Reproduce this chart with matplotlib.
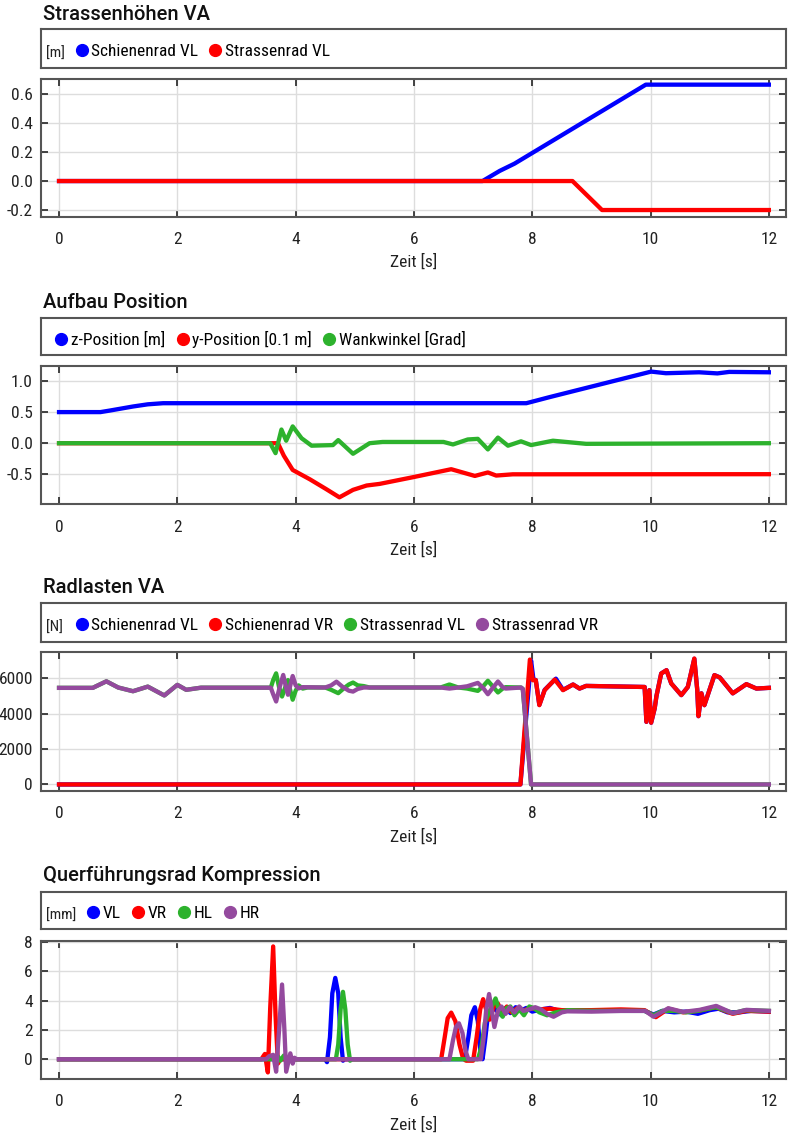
import numpy as np
import matplotlib
matplotlib.use("Agg")
import matplotlib.pyplot as plt
from matplotlib.lines import Line2D

plt.rcParams['font.family'] = ['Liberation Sans Narrow', 'Roboto Condensed', 'Roboto', 'DejaVu Sans']

BLUE = '#0000ff'
RED = '#ff0000'
GREEN = '#2db22d'
PURPLE = '#944a9e'

# --- Strassenhoehen VA ---
p1_t_schiene = [0, 7.16, 7.45, 7.7, 9.92, 12]
p1_v_schiene = [0, 0, 0.07, 0.12, 0.665, 0.665]
p1_t_strasse = [0, 8.68, 9.18, 12]
p1_v_strasse = [0, 0, -0.2, -0.2]

# --- Aufbau Position ---
p2_t_z = [0, 0.7, 0.86, 1.25, 1.5, 1.76, 7.9, 8.07, 8.29, 10.01, 10.26, 10.82, 11.13, 11.33, 12]
p2_v_z = [0.5, 0.5, 0.525, 0.59, 0.625, 0.643, 0.643, 0.685, 0.74, 1.151, 1.125, 1.14, 1.122, 1.146, 1.14]
p2_t_y = [0, 3.7, 3.8, 3.95, 4.24, 4.52, 4.74, 4.97, 5.2, 5.42, 5.98, 6.63, 7.03, 7.25, 7.39, 7.67, 12]
p2_v_y = [0, 0, -0.2, -0.43, -0.58, -0.74, -0.87, -0.75, -0.68, -0.654, -0.547, -0.418, -0.526, -0.47, -0.52, -0.5, -0.498]
p2_t_w = [0, 3.57, 3.66, 3.76, 3.84, 3.95, 4.1, 4.27, 4.63, 4.72, 4.97, 5.25, 5.47, 6.5, 6.66, 6.91,
          7.08, 7.25, 7.42, 7.59, 7.81, 7.98, 8.35, 8.91, 12]
p2_v_w = [0, 0, -0.16, 0.22, 0.04, 0.27, 0.08, -0.04, -0.03, 0.05, -0.17, 0.0, 0.02, 0.02, -0.02, 0.06,
          0.07, -0.1, 0.09, -0.04, 0.03, -0.03, 0.04, -0.01, 0]

# --- Radlasten VA ---
p3_t_svr = [0, 7.8, 7.96, 8.01, 8.06, 8.12, 8.21, 8.38, 8.52, 8.69, 8.8, 8.91, 9.9, 9.93, 9.98, 10.01,
            10.07, 10.1, 10.18, 10.27, 10.35, 10.52, 10.63, 10.74, 10.79, 10.81, 10.86, 10.91, 11.08,
            11.17, 11.39, 11.62, 11.79, 12]
p3_v_svr = [0, 0, 7060, 5890, 5900, 4480, 5330, 5930, 5330, 5650, 5420, 5570, 5510, 3540, 5330, 3490,
            4300, 5000, 6270, 6460, 5710, 5050, 5510, 7120, 5330, 3860, 5150, 4480, 6180,
            6050, 5150, 5670, 5420, 5460]
p3_t_svl = [0, 7.8, 7.98, 8.02, 8.06, 8.12, 8.21, 8.4, 8.52, 8.69, 8.8, 8.91, 9.9, 9.93, 9.98, 10.01,
            10.07, 10.1, 10.18, 10.27, 10.35, 10.52, 10.63, 10.74, 10.79, 10.81, 10.86, 10.91, 11.08,
            11.17, 11.39, 11.62, 11.79, 12]
p3_v_svl = [0, 0, 7000, 5950, 5900, 4500, 5350, 5980, 5350, 5650, 5420, 5570, 5510, 3540, 5330, 3490,
            4300, 5000, 6270, 6460, 5710, 5050, 5510, 7100, 5330, 3860, 5150, 4480, 6180,
            6050, 5150, 5670, 5420, 5460]
p3_t_stvl = [0, 0.57, 0.8, 1.0, 1.25, 1.5, 1.78, 2.0, 2.15, 2.4, 3.58, 3.62, 3.67, 3.72, 3.77, 3.82,
             3.87, 3.91, 3.95, 4.0, 4.05, 4.12, 4.2, 4.5, 4.6, 4.72, 4.82, 4.9, 4.97, 5.05, 5.15, 5.25,
             6.45, 6.6, 6.75, 6.9, 7.08, 7.17, 7.25, 7.33, 7.42, 7.5, 7.55, 7.81, 7.84, 7.98, 12]
p3_v_stvl = [5460, 5460, 5830, 5480, 5270, 5530, 5030, 5630, 5350, 5470, 5470, 5900, 6280, 5500, 4970, 5450,
             5900, 5300, 4790, 5300, 5600, 5420, 5480, 5480, 5350, 5160, 5450, 5650, 5760, 5600, 5560, 5480,
             5480, 5650, 5480, 5420, 5290, 5550, 5860, 5550, 5200, 5420, 5500, 5480, 5400, 0, 0]
p3_t_stvr = [0, 0.57, 0.8, 1.0, 1.25, 1.5, 1.78, 2.0, 2.15, 2.4, 3.58, 3.62, 3.67, 3.73, 3.79, 3.83,
             3.87, 3.91, 3.95, 4.0, 4.05, 4.12, 4.5, 4.6, 4.69, 4.8, 4.9, 4.97, 5.05, 5.15,
             6.45, 6.6, 6.75, 6.9, 7.08, 7.17, 7.25, 7.33, 7.42, 7.5, 7.55, 7.81, 7.84, 7.98, 12]
p3_v_stvr = [5460, 5460, 5830, 5480, 5270, 5530, 5030, 5630, 5350, 5470, 5470, 5100, 4690, 5500, 6190, 5600,
             5070, 5600, 6130, 5600, 5430, 5500, 5480, 5600, 5810, 5500, 5300, 5250, 5400, 5480,
             5480, 5420, 5480, 5550, 5740, 5450, 5100, 5450, 5820, 5500, 5420, 5480, 5400, 0, 0]

# --- Querfuehrungsrad Kompression ---
p4_t_vl = [0, 4.5, 4.53, 4.58, 4.62, 4.67, 4.72, 4.76, 4.8, 4.83, 6.86, 6.92, 6.97, 7.03, 7.08, 7.13,
           7.16, 7.2, 7.25, 7.32, 7.4, 7.48, 7.55, 7.63, 7.72, 7.8, 7.9, 8.0, 8.15, 8.3, 8.45, 8.6, 9.0,
           9.5, 9.9, 10.05, 10.2, 10.4, 10.6, 10.8, 11.0, 11.15, 11.3, 11.5, 11.7, 12]
p4_v_vl = [0, 0, -0.2, 1.5, 4.5, 5.55, 4.5, 1.5, -0.1, 0, 0, 1.5, 3.0, 3.55, 2.6, 0.3,
           0, 1.2, 3.0, 3.6, 3.3, 3.0, 3.5, 3.15, 3.55, 3.3, 3.5, 3.25, 3.4, 3.5, 3.3, 3.3, 3.3,
           3.3, 3.3, 3.05, 3.3, 3.2, 3.25, 3.1, 3.35, 3.45, 3.2, 3.2, 3.3, 3.25]
p4_t_vr = [0, 3.42, 3.48, 3.53, 3.57, 3.62, 3.66, 3.7, 3.74, 6.46, 6.52, 6.57, 6.63, 6.7, 6.77, 6.83,
           6.88, 7.0, 7.06, 7.12, 7.17, 7.22, 7.28, 7.35, 7.42, 7.5, 7.57, 7.65, 7.75, 7.85, 7.95, 8.1,
           8.3, 8.5, 9.0, 9.5, 9.9, 10.09, 10.3, 10.55, 10.8, 11.1, 11.39, 11.62, 12]
p4_v_vr = [0, 0, 0.36, -0.9, 3.5, 7.7, 3.0, -0.3, 0, 0, 1.5, 2.8, 3.18, 2.6, 1.0, 0.05,
           -0.1, -0.1, 1.5, 3.4, 4.1, 3.4, 2.7, 3.6, 3.8, 3.1, 3.6, 3.2, 3.5, 3.3, 3.5, 3.4,
           3.45, 3.35, 3.35, 3.4, 3.35, 2.87, 3.45, 3.2, 3.3, 3.55, 3.1, 3.3, 3.25]
p4_t_hl = [0, 3.65, 3.7, 3.74, 3.8, 3.85, 3.9, 4.68, 4.72, 4.76, 4.8, 4.84, 4.88, 4.92, 4.95, 7.08, 7.14,
           7.2, 7.28, 7.38, 7.45, 7.5, 7.57, 7.63, 7.7, 7.78, 7.86, 7.95, 8.02, 8.12, 8.25, 8.4, 8.6,
           9.0, 9.5, 9.9, 10.05, 10.2, 10.4, 10.6, 10.8, 11.1, 11.4, 11.6, 12]
p4_v_hl = [0, 0, 0.2, -0.1, 0.25, -0.15, 0, 0, 1.0, 3.4, 4.6, 3.4, 1.0, -0.1, 0, 0, 0.8,
           2.5, 3.3, 4.15, 3.2, 2.9, 3.5, 3.6, 3.0, 3.4, 3.0, 3.6, 3.5, 3.2, 3.0, 3.2, 3.35,
           3.3, 3.3, 3.3, 3.0, 3.3, 3.3, 3.2, 3.3, 3.55, 3.15, 3.35, 3.3]
p4_t_hr = [0, 3.5, 3.55, 3.62, 3.67, 3.72, 3.77, 3.81, 3.84, 3.91, 3.95, 3.98, 4.02, 6.6, 6.66, 6.71,
           6.76, 6.82, 6.87, 6.92, 7.13, 7.18, 7.22, 7.27, 7.31, 7.36, 7.42, 7.48, 7.55, 7.62, 7.7,
           7.78, 7.85, 7.95, 8.05, 8.15, 8.25, 8.36, 8.5, 8.59, 9.0, 9.5, 9.91, 10.05, 10.3, 10.55,
           10.83, 11.11, 11.39, 11.62, 12]
p4_v_hr = [0, 0, 0.2, 0.3, -0.85, 2.0, 5.1, 2.0, -0.85, 0.4, -0.3, 0.1, 0, 0, 1.3, 2.2,
           2.45, 1.8, 0.6, 0, 0, 1.5, 3.3, 4.45, 3.5, 2.2, 3.3, 3.6, 3.1, 3.55, 3.2,
           3.6, 3.3, 3.4, 3.55, 3.4, 3.1, 2.9, 3.2, 3.27, 3.25, 3.3, 3.3, 2.9, 3.48, 3.23,
           3.37, 3.64, 3.14, 3.37, 3.3]

xticks = [0, 2, 4, 6, 8, 10, 12]

W, H = 788, 1135
LEFT, RIGHT = 41.3, 786

panels = [
    dict(title='Strassenhöhen VA', unit='[m]', leg_x=0.047, title_y=20,
         leg=(29.3, 68.3), ax=(79, 216.7), ylim=(-0.246, 0.704),
         yticks=[-0.2, 0.0, 0.2, 0.4, 0.6], fmt='{:.1f}',
         series=[(p1_t_schiene, p1_v_schiene, BLUE, 'Schienenrad VL'),
                 (p1_t_strasse, p1_v_strasse, RED, 'Strassenrad VL')]),
    dict(title='Aufbau Position', unit=None, leg_x=0.02, title_y=308,
         leg=(317.7, 355), ax=(366, 504.3), ylim=(-0.982, 1.241),
         yticks=[-0.5, 0.0, 0.5, 1.0], fmt='{:.1f}',
         series=[(p2_t_z, p2_v_z, BLUE, 'z-Position [m]'),
                 (p2_t_y, p2_v_y, RED, 'y-Position [0.1 m]'),
                 (p2_t_w, p2_v_w, GREEN, 'Wankwinkel [Grad]')]),
    dict(title='Radlasten VA', unit='[N]', leg_x=0.047, title_y=593,
         leg=(603.3, 642.3), ax=(652.3, 791), ylim=(-370, 7470),
         yticks=[0, 2000, 4000, 6000], fmt='{:.0f}',
         series=[(p3_t_svl, p3_v_svl, BLUE, 'Schienenrad VL'),
                 (p3_t_svr, p3_v_svr, RED, 'Schienenrad VR'),
                 (p3_t_stvl, p3_v_stvl, GREEN, 'Strassenrad VL'),
                 (p3_t_stvr, p3_v_stvr, PURPLE, 'Strassenrad VR')]),
    dict(title='Querführungsrad Kompression', unit='[mm]', leg_x=0.063, title_y=881,
         leg=(891.7, 929.3), ax=(941, 1079), ylim=(-1.35, 8.07),
         yticks=[0, 2, 4, 6, 8], fmt='{:.0f}',
         series=[(p4_t_vl, p4_v_vl, BLUE, 'VL'),
                 (p4_t_vr, p4_v_vr, RED, 'VR'),
                 (p4_t_hl, p4_v_hl, GREEN, 'HL'),
                 (p4_t_hr, p4_v_hr, PURPLE, 'HR')]),
]


def frac(top, bottom):
    return [LEFT / W, 1 - bottom / H, (RIGHT - LEFT) / W, (bottom - top) / H]


fig = plt.figure(figsize=(W / 100, H / 100), dpi=100)
edge = '#555555'

for p in panels:
    fig.text(43 / W, 1 - p['title_y'] / H, p['title'], fontsize=14.5,
             family=['Roboto', 'DejaVu Sans'], fontweight='medium',
             va='baseline', ha='left', color='#111111')

    # legend box
    lax = fig.add_axes(frac(*p['leg']))
    lax.set_xticks([])
    lax.set_yticks([])
    for s in lax.spines.values():
        s.set_color(edge)
        s.set_linewidth(1.5)
    if p['unit']:
        lax.text(0.006, 0.36, p['unit'], transform=lax.transAxes, fontsize=11,
                 va='center', ha='left', color='#222222')
    handles = [Line2D([], [], ls='', marker='o', ms=8.5, color=c, label=lab)
               for _, _, c, lab in p['series']]
    lax.legend(handles=handles, loc='center left', bbox_to_anchor=(p['leg_x'], 0.42),
               ncol=len(handles), frameon=False, fontsize=12.5, handlelength=0.6,
               handletextpad=0.25, columnspacing=0.7, borderaxespad=0, borderpad=0)

    # plot
    ax = fig.add_axes(frac(*p['ax']))
    for t, v, c, lab in p['series']:
        ax.plot(t, v, color=c, lw=3.1, solid_joinstyle='round')
    ax.set_xlim(-0.3, 12.29)
    ax.set_ylim(*p['ylim'])
    ax.set_xticks(xticks)
    ax.set_xticklabels([str(x) for x in xticks])
    ax.set_yticks(p['yticks'])
    ax.set_yticklabels([p['fmt'].format(y) for y in p['yticks']])
    ax.grid(True, color='#dddddd', lw=1)
    ax.set_axisbelow(True)
    ax.tick_params(direction='in', length=5, width=1.3, color='#333333',
                   top=True, right=True, labelsize=12.5, labelcolor='#222222')
    ax.tick_params(axis='x', pad=11)
    ax.tick_params(axis='y', pad=6)
    for s in ax.spines.values():
        s.set_color(edge)
        s.set_linewidth(1.5)
    ax.set_xlabel('Zeit [s]', fontsize=12.5, labelpad=5, color='#222222')

fig.savefig('out.png', dpi=100)
